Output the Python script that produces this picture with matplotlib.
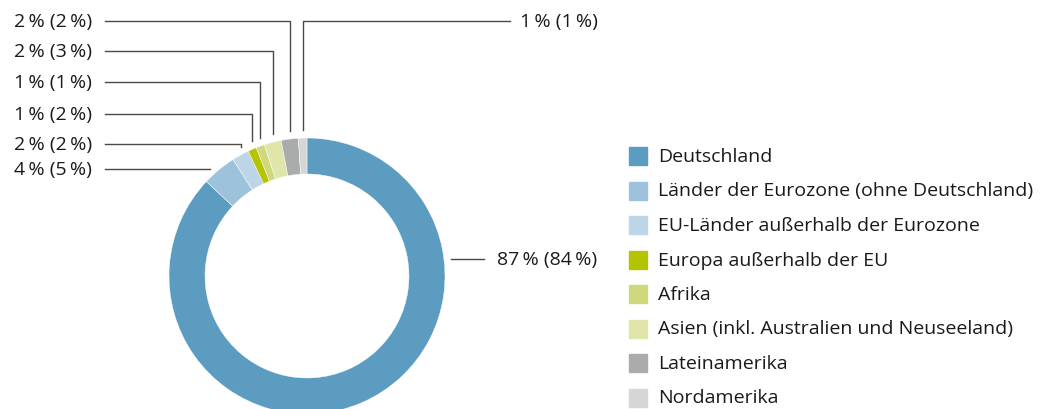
import numpy as np
import matplotlib
matplotlib.use("Agg")
from matplotlib import pyplot as plt

# Daten
regionen = ["Deutschland", "Länder der Eurozone (ohne Deutschland)",
            "EU-Länder außerhalb der Eurozone", "Europa außerhalb der EU",
            "Afrika", "Asien (inkl. Australien und Neuseeland)",
            "Lateinamerika", "Nordamerika"]
anteile = [87, 4, 2, 1, 1, 2, 2, 1]
vorjahr = [84, 5, 2, 2, 1, 3, 2, 1]
farben = ["#5b9cc0", "#9dc3dc", "#bcd6e8", "#b4c400",
          "#cfd97b", "#e0e6a9", "#aaabab", "#d5d6d7"]

TS = "\u2009"  # schmales Leerzeichen


def label(a, b):
    return f"{a}{TS}% ({b}{TS}%)"


plt.rcParams['font.family'] = ['Open Sans', 'DejaVu Sans']
W, H = 1043, 410
fig = plt.figure(figsize=(W / 100, H / 100), dpi=100)
ax = fig.add_axes([0, 0, 1, 1])

# Donut (Pixelkoordinaten, y nach oben)
cx, cy, R, breite = 307, H - 277, 138, 36
ax.pie(anteile, colors=farben, startangle=90, counterclock=False,
       center=(cx, cy), radius=R,
       wedgeprops=dict(width=breite, linewidth=0.3, edgecolor="white"))
ax.set_xlim(0, W)
ax.set_ylim(0, H)
ax.set_aspect('equal')
ax.axis('off')

# Winkel der Segmentmitten (im Uhrzeigersinn ab oben)
kum = np.cumsum(anteile)
mitte = (kum - np.array(anteile) / 2) / sum(anteile) * 2 * np.pi
px = cx + R * np.sin(mitte)
py = cy + R * np.cos(mitte)

lc = "#4a4a4a"
tc = "#1a1a1a"
fs = 14
x_links = 105
label_y = {1: 170, 2: 145, 3: 115, 4: 83, 5: 52, 6: 22}
for i, ypx in label_y.items():
    y = H - ypx
    if i == 1:
        ax.plot([x_links, px[i] - 9], [y, y], color=lc, lw=1)
    else:
        ax.plot([x_links, px[i], px[i]], [y, y, py[i] + 8], color=lc, lw=1)
    ax.text(92, y, label(anteile[i], vorjahr[i]), ha="right", va="center",
            fontsize=fs, color=tc)

# Nordamerika rechts oben
y = H - 22
ax.plot([px[7], px[7], 510], [py[7] + 8, y, y], color=lc, lw=1)
ax.text(520, y, label(anteile[7], vorjahr[7]), ha="left", va="center",
        fontsize=fs, color=tc)

# Deutschland
y = H - 260
ax.plot([451, 484], [y, y], color=lc, lw=1)
ax.text(497, y, label(anteile[0], vorjahr[0]), ha="left", va="center",
        fontsize=fs, color=tc)

# Legende
for k, (name, f) in enumerate(zip(regionen, farben)):
    ym = H - (157 + k * 34.5)
    ax.add_patch(plt.Rectangle((629, ym - 9), 18, 18, color=f))
    ax.text(658, ym, name, ha="left", va="center", fontsize=fs, color=tc)

fig.savefig("out.png", dpi=100)
